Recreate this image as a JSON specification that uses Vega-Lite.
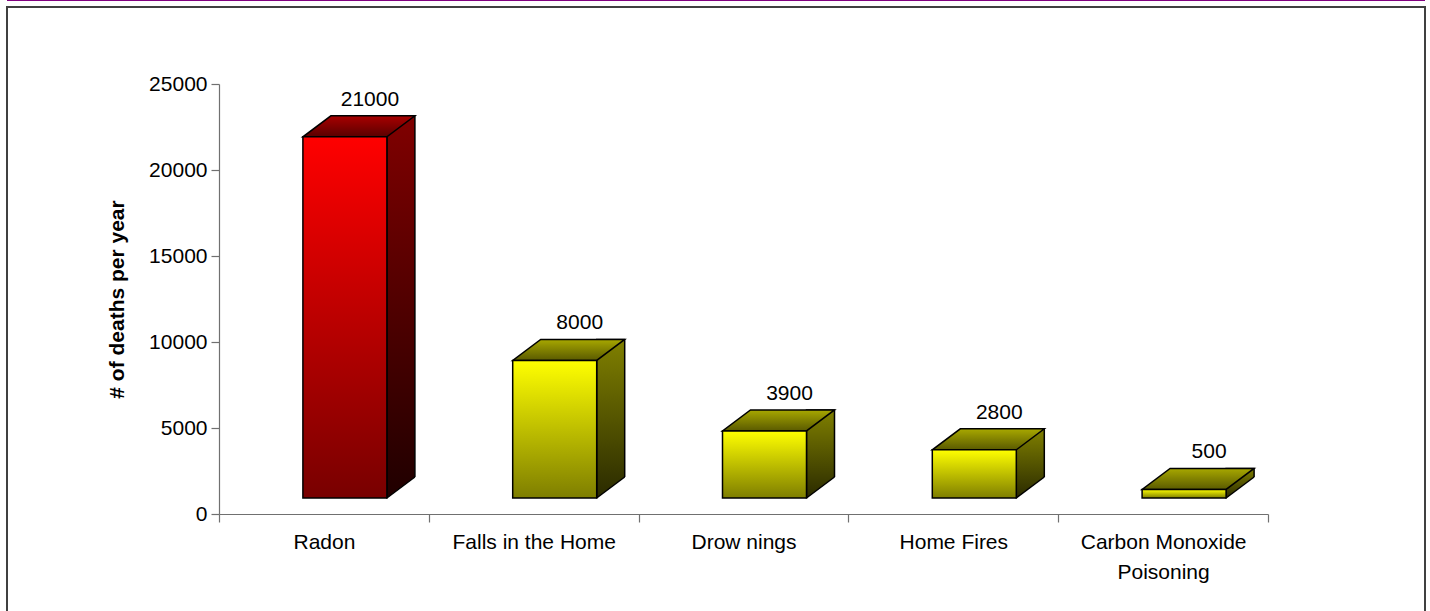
{
  "$schema": "https://vega.github.io/schema/vega-lite/v6.json",
  "autosize": {"type": "none"},
  "padding": {"left": 7, "top": 7, "right": 5, "bottom": 0},
  "width": 1418,
  "height": 620,
  "background": "white",
  "config": {
    "view": {"stroke": "#404040", "strokeWidth": 2},
    "font": "Liberation Sans",
    "axis": {"labelFont": "Liberation Sans", "titleFont": "Liberation Sans", "labelColor": "#000000", "titleColor": "#000000"}
  },
  "data": {
    "values": [
      {"cat": "Radon", "v": 21000},
      {"cat": "Falls in the Home", "v": 8000},
      {"cat": "Drow nings", "v": 3900},
      {"cat": "Home Fires", "v": 2800},
      {"cat": "Carbon Monoxide Poisoning", "v": 500}
    ]
  },
  "encoding": {
    "x": {
      "field": "cat", "type": "nominal",
      "scale": {"domain": ["Radon", "Falls in the Home", "Drow nings", "Home Fires", "Carbon Monoxide Poisoning"], "range": [212, 1261], "paddingInner": 0, "paddingOuter": 0},
      "axis": {
        "title": null, "labelAngle": 0, "tickBand": "extent", "tickSize": 8, "labelPadding": 9,
        "labelFontSize": 21, "labelLineHeight": 30, "labelLimit": 400, "offset": -113, "zindex": 1,
        "domainColor": "#707070", "tickColor": "#707070", "domainWidth": 1.2, "tickWidth": 1.2,
        "labelExpr": "datum.label == 'Carbon Monoxide Poisoning' ? ['Carbon Monoxide', 'Poisoning'] : datum.label"
      }
    }
  },
  "layer": [
    {
      "mark": {"type": "rule", "color": "#800080", "strokeWidth": 2},
      "encoding": {"x": null, "y": {"datum": 29884, "type": "quantitative"}}
    },
    {
      "transform": [{"filter": "datum.cat == 'Radon'"}],
      "mark": {"type": "bar", "width": 28, "xOffset": 77, "yOffset": -37, "y2Offset": -16, "stroke": "#000000", "strokeWidth": 1.5,
        "fill": {"gradient": "linear", "x1": 0, "y1": 0, "x2": 0, "y2": 1, "stops": [{"offset": 0, "color": "#800000"}, {"offset": 1, "color": "#200000"}]}},
      "encoding": {
        "y": {"field": "v", "type": "quantitative", "scale": {"domain": [0, 25000], "range": [507, 77], "nice": false, "zero": true},
          "axis": {"values": [0, 5000, 10000, 15000, 20000, 25000], "format": "d", "title": "# of deaths per year", "titleFontSize": 21, "titleFontWeight": "bold", "titlePadding": 21,
            "labelFontSize": 21, "tickSize": 8, "labelPadding": 4, "grid": false, "offset": -212, "zindex": 1,
            "domainColor": "#707070", "tickColor": "#707070", "domainWidth": 1.2, "tickWidth": 1.2}},
        "y2": {"datum": 0}
      }
    },
    {
      "transform": [{"filter": "datum.cat != 'Radon'"}],
      "mark": {"type": "bar", "width": 28, "xOffset": 77, "yOffset": -37, "y2Offset": -16, "stroke": "#000000", "strokeWidth": 1.5,
        "fill": {"gradient": "linear", "x1": 0, "y1": 0, "x2": 0, "y2": 1, "stops": [{"offset": 0, "color": "#808000"}, {"offset": 1, "color": "#2a2a00"}]}},
      "encoding": {"y": {"field": "v", "type": "quantitative"}, "y2": {"datum": 0}}
    },
    {
      "transform": [{"filter": "datum.cat == 'Radon'"}],
      "mark": {"type": "point", "shape": "M-84,0L0,0L28,-21L-56,-21Z", "size": 4, "filled": true, "opacity": 1, "xOffset": 63, "yOffset": -16, "stroke": "#000000", "strokeWidth": 1.5, "strokeOpacity": 1,
        "fill": {"gradient": "linear", "x1": 0, "y1": 0, "x2": 0, "y2": 1, "stops": [{"offset": 0, "color": "#a80000"}, {"offset": 1, "color": "#5a0000"}]}},
      "encoding": {"y": {"field": "v", "type": "quantitative"}}
    },
    {
      "transform": [{"filter": "datum.cat != 'Radon'"}],
      "mark": {"type": "point", "shape": "M-84,0L0,0L28,-21L-56,-21Z", "size": 4, "filled": true, "opacity": 1, "xOffset": 63, "yOffset": -16, "stroke": "#000000", "strokeWidth": 1.5, "strokeOpacity": 1,
        "fill": {"gradient": "linear", "x1": 0, "y1": 0, "x2": 0, "y2": 1, "stops": [{"offset": 0, "color": "#a8a800"}, {"offset": 1, "color": "#5a5a00"}]}},
      "encoding": {"y": {"field": "v", "type": "quantitative"}}
    },
    {
      "mark": {"type": "point", "shape": "M0,0L28,-21L31,-21L31,3L0,3Z", "size": 4, "filled": true, "opacity": 1, "fill": "#ffffff", "strokeWidth": 0, "xOffset": 63, "yOffset": -16},
      "encoding": {"y": {"datum": 0, "type": "quantitative"}}
    },
    {
      "mark": {"type": "point", "shape": "M0,0L28,-21", "size": 4, "filled": false, "opacity": 1, "stroke": "#000000", "strokeWidth": 1.5, "xOffset": 63, "yOffset": -16},
      "encoding": {"y": {"datum": 0, "type": "quantitative"}}
    },
    {
      "transform": [{"filter": "datum.cat == 'Radon'"}],
      "mark": {"type": "bar", "width": 84, "xOffset": 21, "yOffset": -16, "y2Offset": -16, "stroke": "#000000", "strokeWidth": 1.5,
        "fill": {"gradient": "linear", "x1": 0, "y1": 0, "x2": 0, "y2": 1, "stops": [{"offset": 0, "color": "#ff0000"}, {"offset": 1, "color": "#780000"}]}},
      "encoding": {"y": {"field": "v", "type": "quantitative"}, "y2": {"datum": 0}}
    },
    {
      "transform": [{"filter": "datum.cat != 'Radon'"}],
      "mark": {"type": "bar", "width": 84, "xOffset": 21, "yOffset": -16, "y2Offset": -16, "stroke": "#000000", "strokeWidth": 1.5,
        "fill": {"gradient": "linear", "x1": 0, "y1": 0, "x2": 0, "y2": 1, "stops": [{"offset": 0, "color": "#ffff00"}, {"offset": 1, "color": "#7e7e00"}]}},
      "encoding": {"y": {"field": "v", "type": "quantitative"}, "y2": {"datum": 0}}
    },
    {
      "mark": {"type": "text", "fontSize": 21, "color": "#000000", "xOffset": 46, "yOffset": -53, "baseline": "middle", "align": "center"},
      "encoding": {"y": {"field": "v", "type": "quantitative"}, "text": {"field": "v", "type": "quantitative", "format": "d"}}
    }
  ]
}
